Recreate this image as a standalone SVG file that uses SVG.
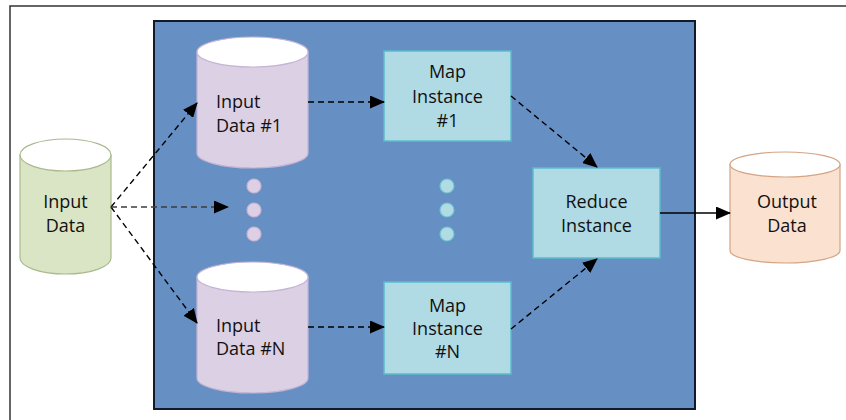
<svg xmlns="http://www.w3.org/2000/svg" width="846" height="420" viewBox="0 0 846 420">
<defs>
<marker id="ah" markerUnits="userSpaceOnUse" markerWidth="15" markerHeight="13" refX="14" refY="6.5" orient="auto"><path d="M0,0 L15,6.5 L0,13 Z" fill="#000"/></marker>
<style>
text{font-family:"Open Sans","Liberation Sans",sans-serif;font-size:18px;fill:#111}
.c{text-anchor:middle}
.dash{fill:none;stroke:#000;stroke-width:1.4;stroke-dasharray:6,4}
.map{fill:#b0dae4;stroke:#5cbccc;stroke-width:1.5}
.purple{fill:#dcd0e4;stroke:#c4b4d6;stroke-width:1.2}
.top{fill:#fff}
.dotp{fill:#ddd0e4;stroke:#c7b4d6;stroke-width:1.2}
.dotc{fill:#b2dce4;stroke:#6ec4d2;stroke-width:1.2}
</style>
</defs>
<rect x="10" y="6" width="850" height="430" fill="#fff" stroke="#333" stroke-width="1.5"/>
<rect id="container" x="154" y="21" width="541" height="388" fill="#668fc3" stroke="#111a28" stroke-width="2"/>
<g id="input-data">
<path d="M20,155 L20,258 A45.5,16 0 0 0 111,258 L111,155 Z" fill="#d9e5c4" stroke="#a9b98c" stroke-width="1.2"/>
<ellipse cx="65.5" cy="155" rx="45.5" ry="16" fill="#fff" stroke="#a9b98c" stroke-width="1.2"/>
<text class="c" x="65.5" y="208">Input</text>
<text class="c" x="65.5" y="232">Data</text>
</g>
<g id="input-data-1">
<path class="purple" d="M197,52 L197,153 A55.5,15 0 0 0 308,153 L308,52 Z"/>
<ellipse class="purple top" cx="252.5" cy="52" rx="55.5" ry="15"/>
<text x="216" y="108">Input</text>
<text x="216" y="132">Data #1</text>
</g>
<g id="input-data-n">
<path class="purple" d="M197,277 L197,378 A55.5,15 0 0 0 308,378 L308,277 Z"/>
<ellipse class="purple top" cx="252.5" cy="277" rx="55.5" ry="15"/>
<text x="216" y="332">Input</text>
<text x="216" y="355">Data #N</text>
</g>
<g id="dots-input">
<circle class="dotp" cx="254" cy="186" r="7"/>
<circle class="dotp" cx="254" cy="210" r="7"/>
<circle class="dotp" cx="254" cy="234" r="7"/>
</g>
<g id="dots-map">
<circle class="dotc" cx="447" cy="186" r="7"/>
<circle class="dotc" cx="447" cy="210" r="7"/>
<circle class="dotc" cx="447" cy="234" r="7"/>
</g>
<g id="map-1">
<rect class="map" x="384" y="51" width="127" height="90"/>
<text class="c" x="447.5" y="78">Map</text>
<text class="c" x="447.5" y="103">Instance</text>
<text class="c" x="447.5" y="127">#1</text>
</g>
<g id="map-n">
<rect class="map" x="384" y="282" width="127" height="92"/>
<text class="c" x="447.5" y="312">Map</text>
<text class="c" x="447.5" y="335">Instance</text>
<text class="c" x="447.5" y="358">#N</text>
</g>
<g id="reduce">
<rect class="map" x="533" y="168" width="127" height="90"/>
<text class="c" x="596.5" y="208">Reduce</text>
<text class="c" x="596.5" y="232">Instance</text>
</g>
<g id="output-data">
<path d="M730,164.5 L730,250.5 A55,12.5 0 0 0 840,250.5 L840,164.5 Z" fill="#fbe1cf" stroke="#d3a485" stroke-width="1.2"/>
<ellipse cx="785" cy="164.5" rx="55" ry="12.5" fill="#fff" stroke="#d3a485" stroke-width="1.2"/>
<text class="c" x="787" y="208">Output</text>
<text class="c" x="787" y="232">Data</text>
</g>
<g id="connectors">
<path class="dash" d="M111,207 L197,103" marker-end="url(#ah)"/>
<path class="dash" d="M111,207 L197,323" marker-end="url(#ah)"/>
<path class="dash" d="M111,207 L228,207" style="stroke:#3c3c3c" marker-end="url(#ah)"/>
<path class="dash" d="M308,102 L384,102" marker-end="url(#ah)"/>
<path class="dash" d="M308,327 L384,327" marker-end="url(#ah)"/>
<path class="dash" d="M511,96 L597,167" marker-end="url(#ah)"/>
<path class="dash" d="M511,329 L597,259" marker-end="url(#ah)"/>
<path d="M660,213 L730,213" fill="none" stroke="#000" stroke-width="1.4" marker-end="url(#ah)"/>
</g>
</svg>
